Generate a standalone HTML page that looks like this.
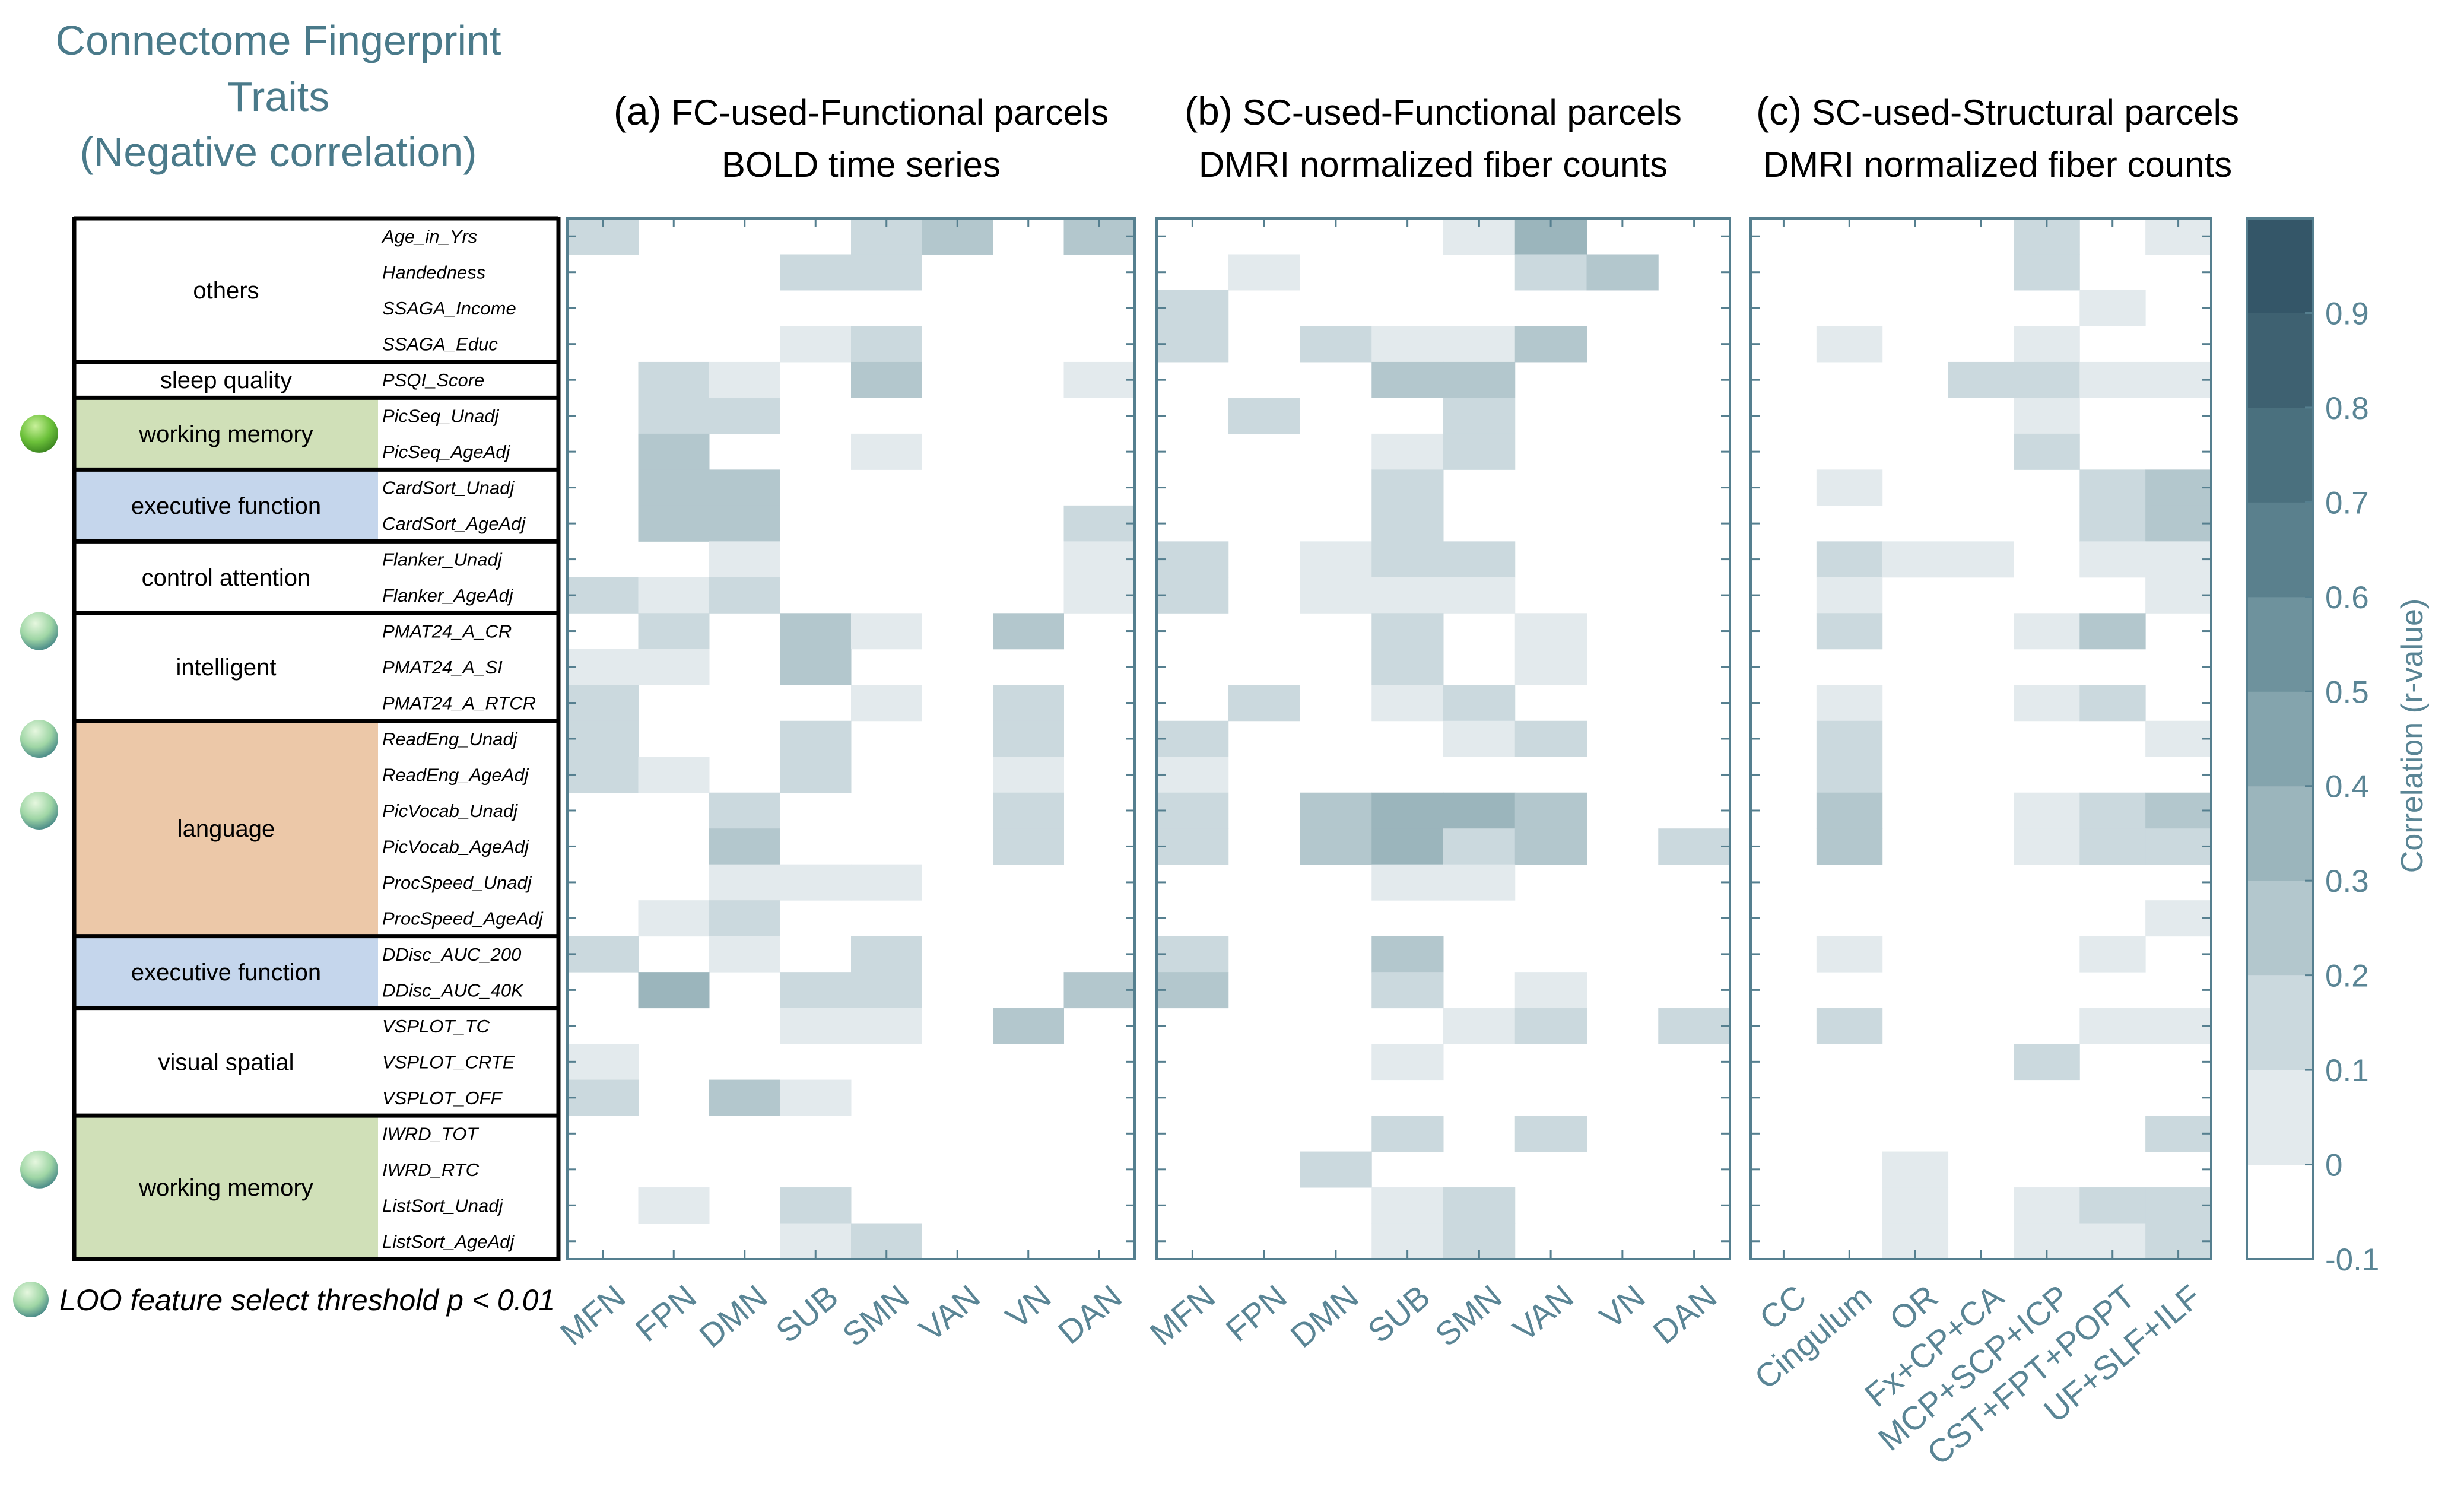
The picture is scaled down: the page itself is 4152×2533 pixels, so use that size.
<!DOCTYPE html>
<html><head><meta charset="utf-8"><style>
html,body{margin:0;padding:0;background:#fff}
svg{display:block}
text{font-family:"Liberation Sans",sans-serif}
</style></head><body>
<svg id="fig" width="4152" height="2533" viewBox="0 0 4152 2533" xmlns="http://www.w3.org/2000/svg">
<defs>
<radialGradient id="gBright" cx="40%" cy="30%" r="70%"><stop offset="0" stop-color="#c8f09a"/><stop offset="0.6" stop-color="#6cc13a"/><stop offset="1" stop-color="#3f8a22"/></radialGradient>
<radialGradient id="gPale" cx="40%" cy="30%" r="70%"><stop offset="0" stop-color="#e6f7df"/><stop offset="0.6" stop-color="#9fd6a5"/><stop offset="1" stop-color="#4f8f8a"/></radialGradient>
</defs>
<g fill="#4a7a8a" font-size="70" text-anchor="middle">
<text x="469" y="92">Connectome Fingerprint</text>
<text x="469" y="187">Traits</text>
<text x="469" y="280">(Negative correlation)</text>
</g>
<g id="table"></g>
<g id="balls"></g>
<text x="100" y="2208" font-size="50" font-style="italic">LOO feature select threshold p &lt; 0.01</text>
<g id="panels"></g>
<g id="cbar"></g>
</svg>
<script>
const NS="http://www.w3.org/2000/svg";
const svg=document.getElementById('fig');
function mk(tag,attrs,parent){const e=document.createElementNS(NS,tag);for(const k in attrs)e.setAttribute(k,attrs[k]);(parent||svg).appendChild(e);return e;}

// ---------- DATA ----------
const traits=["Age_in_Yrs","Handedness","SSAGA_Income","SSAGA_Educ","PSQI_Score","PicSeq_Unadj","PicSeq_AgeAdj","CardSort_Unadj","CardSort_AgeAdj","Flanker_Unadj","Flanker_AgeAdj","PMAT24_A_CR","PMAT24_A_SI","PMAT24_A_RTCR","ReadEng_Unadj","ReadEng_AgeAdj","PicVocab_Unadj","PicVocab_AgeAdj","ProcSpeed_Unadj","ProcSpeed_AgeAdj","DDisc_AUC_200","DDisc_AUC_40K","VSPLOT_TC","VSPLOT_CRTE","VSPLOT_OFF","IWRD_TOT","IWRD_RTC","ListSort_Unadj","ListSort_AgeAdj"];
const groupNames=["others","sleep quality","working memory","executive function","control attention","intelligent","language","executive function","visual spatial","working memory"];
const groupStart=[0,4,5,7,9,11,14,20,22,25];
const groupEnd=[3,4,6,8,10,13,19,21,24,28];
const groupColor=["#ffffff","#ffffff","#d0e0b8","#c5d6ec","#ffffff","#ffffff","#ecc8a8","#c5d6ec","#ffffff","#d0e0b8"];
const funcParcels=["MFN","FPN","DMN","SUB","SMN","VAN","VN","DAN"];
const structParcels=["CC","Cingulum","OR","Fx+CP+CA","MCP+SCP+ICP","CST+FPT+POPT","UF+SLF+ILF"];
const valuesA=[
[.15,0,0,0,.15,.25,0,.25],[0,0,0,.15,.15,0,0,0],[0,0,0,0,0,0,0,0],[0,0,0,.05,.15,0,0,0],
[0,.15,.05,0,.25,0,0,.05],[0,.15,.15,0,0,0,0,0],[0,.25,0,0,.05,0,0,0],[0,.25,.25,0,0,0,0,0],
[0,.25,.25,0,0,0,0,.15],[0,0,.05,0,0,0,0,.05],[.15,.05,.15,0,0,0,0,.05],[0,.15,0,.25,.05,0,.25,0],
[.05,.05,0,.25,0,0,0,0],[.15,0,0,0,.05,0,.15,0],[.15,0,0,.15,0,0,.15,0],[.15,.05,0,.15,0,0,.05,0],
[0,0,.15,0,0,0,.15,0],[0,0,.25,0,0,0,.15,0],[0,0,.05,.05,.05,0,0,0],[0,.05,.15,0,0,0,0,0],
[.15,0,.05,0,.15,0,0,0],[0,.35,0,.15,.15,0,0,.25],[0,0,0,.05,.05,0,.25,0],[.05,0,0,0,0,0,0,0],
[.15,0,.25,.05,0,0,0,0],[0,0,0,0,0,0,0,0],[0,0,0,0,0,0,0,0],[0,.05,0,.15,0,0,0,0],[0,0,0,.05,.15,0,0,0]];
const valuesB=[
[0,0,0,0,.05,.35,0,0],[0,.05,0,0,0,.15,.25,0],[.15,0,0,0,0,0,0,0],[.15,0,.15,.05,.05,.25,0,0],
[0,0,0,.25,.25,0,0,0],[0,.15,0,0,.15,0,0,0],[0,0,0,.05,.15,0,0,0],[0,0,0,.15,0,0,0,0],
[0,0,0,.15,0,0,0,0],[.15,0,.05,.15,.15,0,0,0],[.15,0,.05,.05,.05,0,0,0],[0,0,0,.15,0,.05,0,0],
[0,0,0,.15,0,.05,0,0],[0,.15,0,.05,.15,0,0,0],[.15,0,0,0,.05,.15,0,0],[.05,0,0,0,0,0,0,0],
[.15,0,.25,.35,.35,.25,0,0],[.15,0,.25,.35,.15,.25,0,.15],[0,0,0,.05,.05,0,0,0],[0,0,0,0,0,0,0,0],
[.15,0,0,.25,0,0,0,0],[.25,0,0,.15,0,.05,0,0],[0,0,0,0,.05,.15,0,.15],[0,0,0,.05,0,0,0,0],
[0,0,0,0,0,0,0,0],[0,0,0,.15,0,.15,0,0],[0,0,.15,0,0,0,0,0],[0,0,0,.05,.15,0,0,0],[0,0,0,.05,.15,0,0,0]];
const valuesC=[
[0,0,0,0,.15,0,.05],[0,0,0,0,.15,0,0],[0,0,0,0,0,.05,0],[0,.05,0,0,.05,0,0],
[0,0,0,.15,.15,.05,.05],[0,0,0,0,.05,0,0],[0,0,0,0,.15,0,0],[0,.05,0,0,0,.15,.25],
[0,0,0,0,0,.15,.25],[0,.15,.05,.05,0,.05,.05],[0,.05,0,0,0,0,.05],[0,.15,0,0,.05,.25,0],
[0,0,0,0,0,0,0],[0,.05,0,0,.05,.15,0],[0,.15,0,0,0,0,.05],[0,.15,0,0,0,0,0],
[0,.25,0,0,.05,.15,.25],[0,.25,0,0,.05,.15,.15],[0,0,0,0,0,0,0],[0,0,0,0,0,0,.05],
[0,.05,0,0,0,.05,0],[0,0,0,0,0,0,0],[0,.15,0,0,0,.05,.05],[0,0,0,0,.15,0,0],
[0,0,0,0,0,0,0],[0,0,0,0,0,0,.15],[0,0,.05,0,0,0,0],[0,0,.05,0,.05,.15,.15],[0,0,.05,0,.05,.05,.15]];
const cbarTicks=[-0.1,0,0.1,0.2,0.3,0.4,0.5,0.6,0.7,0.8,0.9];
const cbarColors=["#ffffff","#e3eaed","#cbd9de","#b3c7cd","#9bb5bc","#84a4ad","#6e929d","#5a808d","#4a707e","#3e6171","#345668"];
const looRows=[5.5,11,14,16,26];

// ---------- LAYOUT ----------
const TOP=368,BOT=2122,NR=29,RH=(BOT-TOP)/NR;
const rowY=i=>TOP+i*RH;
const VMIN=-0.1,VMAX=1.0;
function colorFor(v){let b=Math.floor((v-VMIN)/0.1+1e-9);b=Math.max(0,Math.min(cbarColors.length-1,b));return cbarColors[b];}
const AX="#557f8f";

const tb=document.getElementById('table');
const TL=125,TR=941,TS=637;
for(let g=0;g<groupNames.length;g++){
  const y0=rowY(groupStart[g]),y1=rowY(groupEnd[g]+1);
  const r=mk('rect',{x:TL,y:y0,width:TS-TL,height:y1-y0,fill:groupColor[g]},tb);
  
  
  const t=mk('text',{x:(TL+TS)/2,y:(y0+y1)/2+14,'font-size':40,'text-anchor':'middle',fill:'#000'},tb);
  t.textContent=groupNames[g];
  
  
  const ln=mk('line',{x1:TL,x2:TR,y1:y0,y2:y0,stroke:'#000','stroke-width':7},tb);
  
  
}
mk('line',{x1:TL,x2:TR,y1:BOT,y2:BOT,stroke:'#000','stroke-width':7},tb);
mk('line',{x1:TL,x2:TL,y1:TOP-3,y2:BOT+3,stroke:'#000','stroke-width':7},tb);
mk('line',{x1:TR,x2:TR,y1:TOP-3,y2:BOT+3,stroke:'#000','stroke-width':7},tb);
traits.forEach((n,i)=>{
  const t=mk('text',{x:644,y:rowY(i)+RH/2+11,'font-size':31,'font-style':'italic',fill:'#000'},tb);
  t.textContent=n;
  
  
});

const bl=document.getElementById('balls');
looRows.forEach((r,i)=>{
  const c=mk('circle',{cx:66,cy:rowY(r)+RH/2,r:32,fill:i===0?'url(#gBright)':'url(#gPale)'},bl);
  
  
});
const lb=mk('circle',{cx:52,cy:2190,r:30,fill:'url(#gPale)'},bl);



const panels=[
 {id:'a',x0:956,x1:1912,cols:funcParcels,vals:valuesA,t1:'(a)',t2:'FC-used-Functional parcels',t3:'BOLD time series',cx:1451},
 {id:'b',x0:1949,x1:2915,cols:funcParcels,vals:valuesB,t1:'(b)',t2:'SC-used-Functional parcels',t3:'DMRI normalized fiber counts',cx:2415},
 {id:'c',x0:2950,x1:3726,cols:structParcels,vals:valuesC,t1:'(c)',t2:'SC-used-Structural parcels',t3:'DMRI normalized fiber counts',cx:3366}];
const pg=document.getElementById('panels');
panels.forEach(p=>{
  const g=mk('g',{},pg);
  
  
  const nc=p.cols.length,cw=(p.x1-p.x0)/nc;
  const colX=j=>p.x0+j*cw;
  p.vals.forEach((row,i)=>row.forEach((v,j)=>{
    if(v<=0)return;
    const r=mk('rect',{x:colX(j),y:rowY(i),width:cw+0.5,height:RH+0.5,fill:colorFor(v)},g);
    
    
  }));
  const fr=mk('rect',{x:p.x0,y:TOP,width:p.x1-p.x0,height:BOT-TOP,fill:'none',stroke:AX,'stroke-width':4},g);
  
  
  for(let i=0;i<NR;i++){const y=rowY(i)+RH/2;
    mk('line',{x1:p.x0,x2:p.x0+15,y1:y,y2:y,stroke:AX,'stroke-width':3},g);
    mk('line',{x1:p.x1-15,x2:p.x1,y1:y,y2:y,stroke:AX,'stroke-width':3},g);}
  p.cols.forEach((c,j)=>{const x=colX(j)+cw/2;
    mk('line',{x1:x,x2:x,y1:TOP,y2:TOP+15,stroke:AX,'stroke-width':3},g);
    mk('line',{x1:x,x2:x,y1:BOT-15,y2:BOT,stroke:AX,'stroke-width':3},g);
    const lx=x+42,ly=BOT+70;
    const t=mk('text',{x:lx,y:ly,'font-size':56,fill:'#5a8595','text-anchor':'end',transform:`rotate(-40 ${lx} ${ly})`},g);
    t.textContent=c;
    
    
  });
  const t1=mk('text',{x:p.cx,y:210,'font-size':60,'text-anchor':'middle',fill:'#000'},g);
  t1.innerHTML='<tspan font-size="66">'+p.t1+'</tspan> '+p.t2;
  
  
  const t2=mk('text',{x:p.cx,y:298,'font-size':60,'text-anchor':'middle',fill:'#000'},g);
  t2.textContent=p.t3;
  
  
});

const cb=document.getElementById('cbar');
const CX0=3786,CX1=3898;
const cy=v=>BOT-(v-VMIN)/(VMAX-VMIN)*(BOT-TOP);
cbarColors.forEach((c,k)=>{
  const v0=VMIN+k*0.1;
  const r=mk('rect',{x:CX0,y:cy(v0+0.1),width:CX1-CX0,height:cy(v0)-cy(v0+0.1)+0.5,fill:c},cb);
  
  
});
mk('rect',{x:CX0,y:TOP,width:CX1-CX0,height:BOT-TOP,fill:'none',stroke:AX,'stroke-width':4},cb);
cbarTicks.forEach(v=>{const y=cy(v);
  mk('line',{x1:CX1-14,x2:CX1,y1:y,y2:y,stroke:AX,'stroke-width':3},cb);
  const t=mk('text',{x:3918,y:y+19,'font-size':53,fill:'#5a8595'},cb);
  t.textContent=(Math.round(v*10)/10).toString();
  
  
});
const cl=mk('text',{x:4082,y:1240,'font-size':52,fill:'#5a8595','text-anchor':'middle',transform:'rotate(-90 4082 1240)'},cb);
cl.textContent='Correlation (r-value)';


</script>
</body></html>
